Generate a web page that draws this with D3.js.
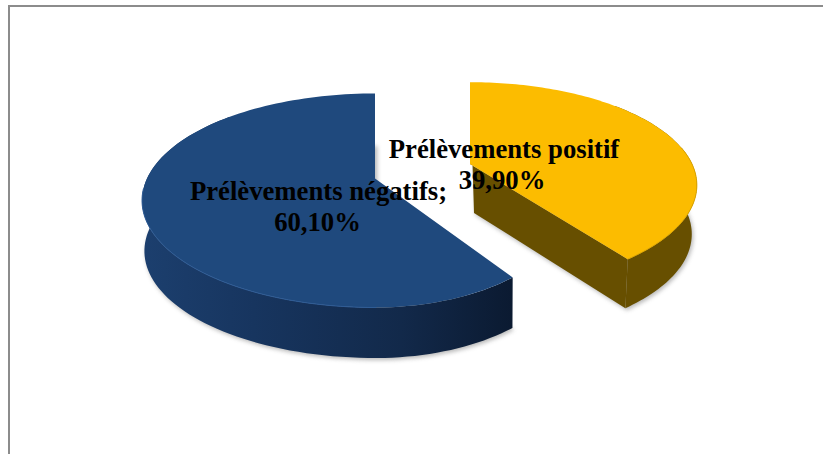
<!DOCTYPE html>
<html lang="fr">
<head>
<meta charset="utf-8">
<title>Prélèvements</title>
<script src="https://cdn.jsdelivr.net/npm/d3@7"></script>
<style>
  html, body { margin: 0; padding: 0; background: #fff; }
  svg { display: block; }
  text { font-family: "Liberation Serif", "Times New Roman", serif; font-weight: bold; fill: #000; }
</style>
</head>
<body>
<svg id="chart" width="823" height="454"></svg>
<script>
// Sample results, in percent, clockwise from twelve o'clock.
const categories = ["Prélèvements positif", "Prélèvements négatifs;"];
const values = [39.9, 60.1];
const valueLabels = ["39,90%", "60,10%"];

const svg = d3.select("#chart");

// Frame: only the top and left edges of the chart area are stroked.
svg.append("path")
  .attr("d", "M9,454V6H823")
  .attr("fill", "none").attr("stroke", "#8c8c8c").attr("stroke-width", 2);

const defs = svg.append("defs");
defs.append("filter").attr("id", "soft")
  .attr("x", "-10%").attr("y", "-10%").attr("width", "120%").attr("height", "125%")
  .append("feGaussianBlur").attr("stdDeviation", 2);

const blueWall = defs.append("linearGradient").attr("id", "blueWall")
  .attr("gradientUnits", "userSpaceOnUse").attr("x1", 142).attr("x2", 513).attr("y1", 0).attr("y2", 0);
[[0, "#1c3f6e"], [0.3, "#17355f"], [0.7, "#12294a"], [1, "#0b1a31"]].forEach(([o, c]) =>
  blueWall.append("stop").attr("offset", o).attr("stop-color", c));

// Each exploded slice has its own apex and disc size; `rightScale` narrows the half
// of the disc right of the apex, `floor` shrinks the lower face about a point.
const sliceStyle = [
  { cx: 470, cy: 164, rx: 222, ryMax: 98.6, rightScale: 1, top: "#fcbc00", wall: "#674f00",
    rim: "#dba400", rimFrom: 67, rimTo: 121, depth: 49, floor: { at: 570, k: 0.96 } },
  { cx: 375, cy: 178.5, rx: 228, ryMax: 102.5, rightScale: 0.85, top: "#1f497d", wall: "url(#blueWall)",
    rim: "#2f5c96", rimFrom: 20, rimTo: 68, depth: 50.5, floor: { at: 480, k: 0.993 } }
];
const tilt = 0.2055;

// Tilted disc: nearer points (lower on screen) are drawn larger.
function topPoint(style, a) {
  const ry = d3.scaleLinear().domain([0, 1]).range([0, style.ryMax]);
  const u = Math.sin(a), v = -Math.cos(a), s = 1 / (1 - tilt * v);
  const k = u > 0 ? style.rightScale : 1;
  return [style.cx + style.rx * u * s * k, style.cy + ry(v) * s];
}
function bottomPoint(style, p) {
  const fx = d3.scaleLinear().domain([style.floor.at, style.floor.at + 1])
    .range([style.floor.at, style.floor.at + style.floor.k]);
  return [fx(p[0]), p[1] + style.depth];
}

const arcs = d3.pie().sort(null).value(d => d)(values);
const line = d3.line();
const sweep = (a0, a1) => d3.range(0, 121).map(i => a0 + (a1 - a0) * i / 120);

const pie = svg.append("g");

arcs.forEach((arc, i) => {
  const st = sliceStyle[i];
  const rimTop = sweep(arc.startAngle, arc.endAngle).map(a => topPoint(st, a));
  const apex = [st.cx, st.cy];
  const rimBottom = rimTop.map(p => bottomPoint(st, p));
  const apexBottom = bottomPoint(st, apex);

  // Soft contact shadow beneath the slice.
  pie.append("path")
    .attr("d", line([apexBottom, ...rimBottom]) + "Z")
    .attr("transform", "translate(1.5,2)")
    .attr("fill", "#9a9a9a").attr("opacity", 0.7).attr("filter", "url(#soft)");

  // Outer wall, plus the radial walls where they face the viewer.
  if (i === 0) {
    pie.append("path")
      .attr("d", line([rimTop[0], apex, rimTop[120], rimBottom[120], apexBottom]) + "Z")
      .attr("fill", st.wall);
    pie.append("path")
      .attr("d", line([...rimTop.slice(40), ...rimBottom.slice(40).reverse()]) + "Z")
      .attr("fill", st.wall);
  } else {
    pie.append("path")
      .attr("d", line([...rimTop.slice(0, 95), ...rimBottom.slice(0, 95).reverse()]) + "Z")
      .attr("fill", st.wall);
  }

  // Top face with a faint edge along its near rim.
  pie.append("path")
    .attr("d", line([apex, ...rimTop]) + "Z")
    .attr("fill", st.top);
  pie.append("path")
    .attr("d", line(rimTop.slice(st.rimFrom, st.rimTo)))
    .attr("fill", "none").attr("stroke", st.rim).attr("stroke-width", 1);
});

// Data labels sit on top of both slices.
const labelSpots = [
  { x: 504, y: 158, valueX: 502 },
  { x: 318.5, y: 200, valueX: 317.5 }
];
const labels = svg.append("g").attr("text-anchor", "middle").attr("font-size", 26.7);
categories.forEach((name, i) => {
  labels.append("text").attr("x", labelSpots[i].x).attr("y", labelSpots[i].y).text(name);
  labels.append("text").attr("x", labelSpots[i].valueX).attr("y", labelSpots[i].y + 31).text(valueLabels[i]);
});
</script>
</body>
</html>
